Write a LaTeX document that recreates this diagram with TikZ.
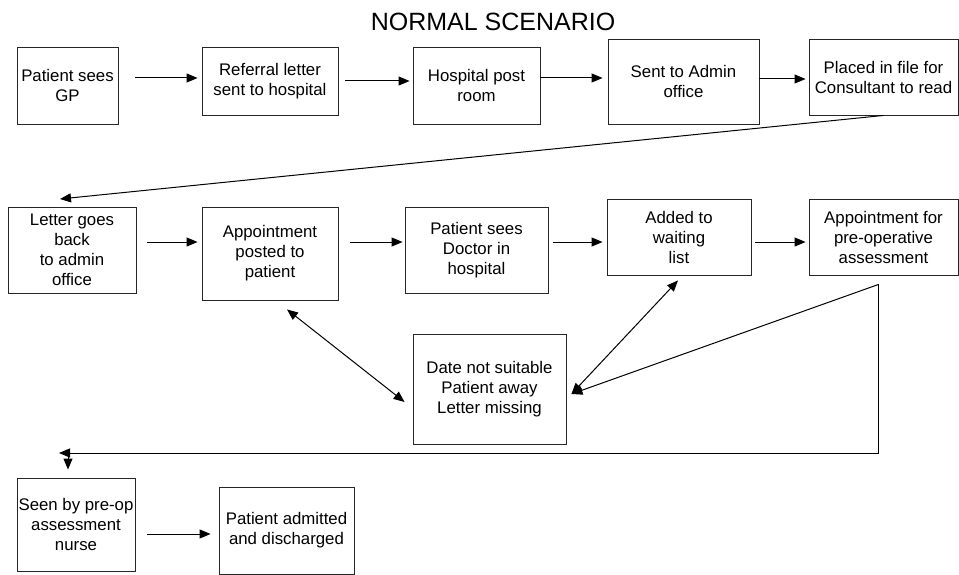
\documentclass[tikz,border=0pt]{standalone}
\usepackage{fontspec}
\setmainfont{Liberation Sans}
\usetikzlibrary{calc}
\usetikzlibrary{arrows.meta}

\begin{document}
\begin{tikzpicture}[x=1pt,y=-1pt]
    \tikzset{nd/.style={
      rectangle,
      draw=black!85,
      line width=.9pt,
      inner sep=1pt,
      align=center,
      font=\fontsize{16.8}{20}\selectfont},
      arr/.style={-{Triangle[length=11pt,width=9pt]}, line width=1pt},
      darr/.style={{Triangle[length=11pt,width=9pt]}-{Triangle[length=11pt,width=9pt]}, line width=1pt}}
    \useasboundingbox (0,0) rectangle (959,575);
    \node[font=\fontsize{25}{30}\selectfont] at (493,22) (t) {NORMAL SCENARIO};
    \node[nd, minimum width=101, minimum height=77] at (67.5,85.5) (0) {Patient sees\\GP};
    \node[nd, minimum width=136, minimum height=68] at (270,81) (1) {Referral letter\\sent to hospital};
    \node[nd, minimum width=127, minimum height=77] at (476.5,85.5) (2) {Hospital post\\room};
    \node[nd, minimum width=151, minimum height=85] at (683.5,81.5) (3) {Sent to Admin\\office};
    \node[nd, minimum width=149, minimum height=76] at (883.5,77) (4) {Placed in file for\\Consultant to read};
    \node[nd, minimum width=128, minimum height=86] at (72,250) (5) {Letter goes\\back\\to admin\\office};
    \node[nd, minimum width=136, minimum height=93] at (270,253.5) (6) {Appointment\\posted to\\patient};
    \node[nd, minimum width=143, minimum height=86] at (476.5,250) (7) {Patient sees\\Doctor in\\hospital};
    \node[nd, minimum width=144, minimum height=76] at (679,237) (8) {Added to\\waiting\\list};
    \node[nd, minimum width=149, minimum height=76] at (883.5,237) (9) {Appointment for\\pre-operative\\assessment};
    \node[nd, minimum width=153, minimum height=110] at (489.5,389.5) (10) {Date not suitable\\Patient away\\Letter missing};
    \node[nd, minimum width=118, minimum height=93] at (76,524.5) (11) {Seen by pre-op\\assessment\\nurse};
    \node[nd, minimum width=135, minimum height=87] at (286.5,530.5) (12) {Patient admitted\\and discharged};
    \coordinate (in5) at (60,199);
    \coordinate (in11) at (59,453);
    \draw[arr, shorten <=17pt, shorten >=4pt] (0.east |- 0,78) -- (1.west |- 0,78);
    \draw[arr, shorten <=7pt, shorten >=3pt] (1.east |- 0,81) -- (2.west |- 0,81);
    \draw[arr, shorten >=5pt] (2.east |- 0,78) -- (3.west |- 0,78);
    \draw[arr, shorten >=3pt] (3.east |- 0,79) -- (4.west |- 0,79);
    \draw[arr] (4.south) -- (in5);
    \draw[arr, shorten <=11pt, shorten >=4pt] (5.east |- 0,242) -- (6.west |- 0,242);
    \draw[arr, shorten <=12pt, shorten >=2pt] (6.east |- 0,242) -- (7.west |- 0,242);
    \draw[arr, shorten <=5pt, shorten >=4pt] (7.east |- 0,242) -- (8.west |- 0,242);
    \draw[arr, shorten <=4pt, shorten >=3pt] (8.east |- 0,242) -- (9.west |- 0,242);
    \draw[darr] ($(6.south)+(17,9)$) -- ($(10.west)+(-8,12.5)$);
    \draw[darr] ($(8.south)+(-1,5)$) -- ($(10.east)+(5,4.5)$);
    \draw[arr] ($(9.south)+(-5,9)$) -- ($(10.east)+(5,4.5)$);
    \draw[arr] ($(9.south)+(-5,9)$) |- (in11);
    \draw[arr] ($(11.north)+(-8,-25)$) -- ($(11.north)+(-8,-8)$);
    \draw[arr, shorten <=12pt, shorten >=8pt] (11.east |- 0,534) -- (12.west |- 0,534);
  \end{tikzpicture}
\end{document}
